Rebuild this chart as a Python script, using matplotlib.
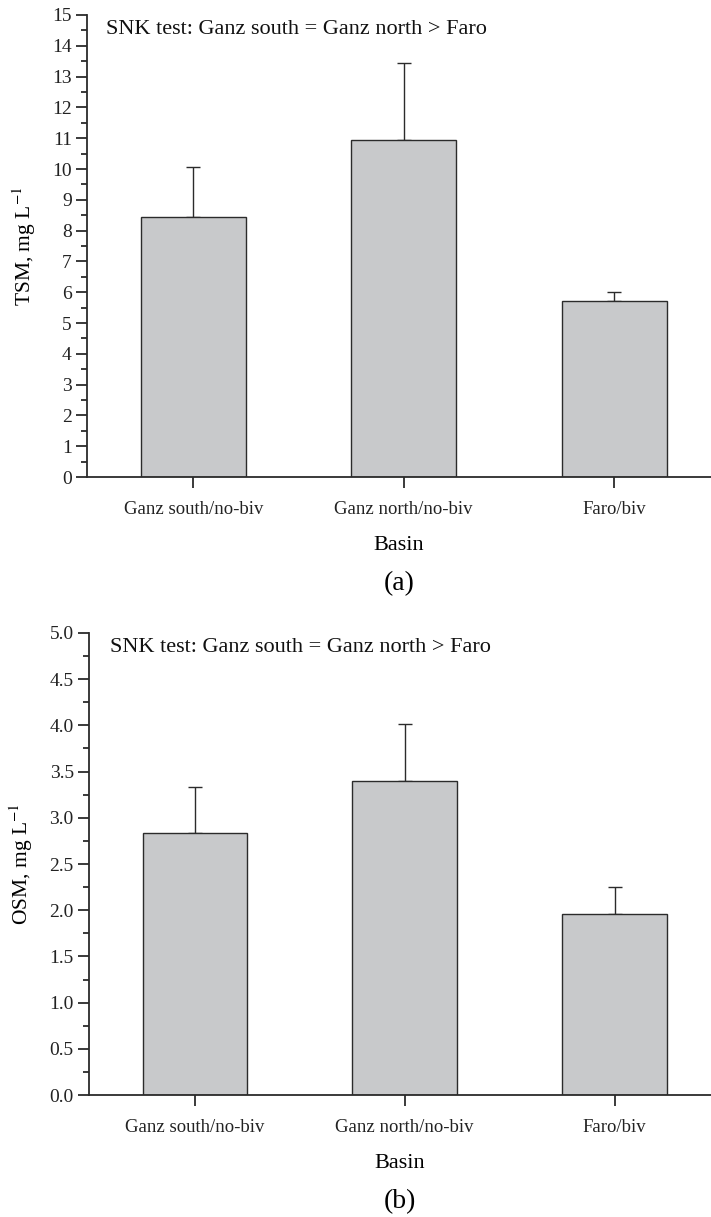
import numpy as np
import matplotlib
matplotlib.use("Agg")
import matplotlib.pyplot as plt
from matplotlib.ticker import MultipleLocator, FormatStrFormatter

plt.rcParams['font.family'] = ['Liberation Serif', 'DejaVu Serif']
plt.rcParams['mathtext.fontset'] = 'stix'

# data
basins = ['Ganz south/no-biv', 'Ganz north/no-biv', 'Faro/biv']
tsm_mean = [8.45, 10.95, 5.72]
tsm_err = [1.60, 2.50, 0.30]
osm_mean = [2.84, 3.40, 1.96]
osm_err = [0.49, 0.61, 0.29]
snk_text = 'SNK test: Ganz south = Ganz north > Faro'

bar_col = '#c8c9cb'
line_col = '#2b2b2b'

fig = plt.figure(figsize=(7.11, 12.17), dpi=100)
ax1 = fig.add_axes([0.1224, 0.608, 0.8776, 0.3797])
ax2 = fig.add_axes([0.1252, 0.1002, 0.8748, 0.3797])


def draw_panel(ax, mean, err, ymax, major, minor, fmt, ylab, tag, txt_x, txt_y):
    x = np.arange(len(basins))
    ax.bar(x, mean, width=0.5, color=bar_col, edgecolor=line_col, linewidth=1.0, zorder=2)
    ax.errorbar(x, mean, yerr=[np.zeros(len(err)), err], fmt='none',
                ecolor=line_col, elinewidth=1.0, capsize=5, capthick=1.0, zorder=1)
    ax.set_xlim(-0.505, 2.46)
    ax.set_ylim(0, ymax)
    ax.spines['top'].set_visible(False)
    ax.spines['right'].set_visible(False)
    ax.spines['left'].set_linewidth(1.3)
    ax.spines['bottom'].set_linewidth(1.3)
    ax.spines['left'].set_color(line_col)
    ax.spines['bottom'].set_color(line_col)
    ax.yaxis.set_major_locator(MultipleLocator(major))
    ax.yaxis.set_minor_locator(MultipleLocator(minor))
    ax.yaxis.set_major_formatter(FormatStrFormatter(fmt))
    ax.set_xticks(x)
    ax.set_xticklabels(basins, fontsize=13.5)
    ax.tick_params(axis='y', which='major', direction='out', length=8, width=1.3,
                   labelsize=14, colors=line_col, pad=3)
    ax.tick_params(axis='y', which='minor', direction='out', length=4, width=1.3, colors=line_col)
    ax.tick_params(axis='x', which='major', direction='out', length=8, width=1.3,
                   colors=line_col, pad=9)
    for lab in ax.get_xticklabels() + ax.get_yticklabels():
        lab.set_color('#222222')
    ax.set_xlabel('Basin', fontsize=16, labelpad=13)
    ax.set_ylabel(ylab, fontsize=15.5, labelpad=10)
    ax.text(txt_x, txt_y, snk_text, transform=ax.transAxes, fontsize=16,
            ha='left', va='center', color='#111111')
    ax.text(0.5, -0.231, tag, transform=ax.transAxes, fontsize=20,
            ha='center', va='center')


draw_panel(ax1, tsm_mean, tsm_err, 15, 1, 0.5, '%d', 'TSM, mg L$^{-1}$', '(a)', 0.031, 0.968)
draw_panel(ax2, osm_mean, osm_err, 5.0, 0.5, 0.25, '%.1f', 'OSM, mg L$^{-1}$', '(b)', 0.034, 0.968)

fig.savefig('out.png', dpi=100)
